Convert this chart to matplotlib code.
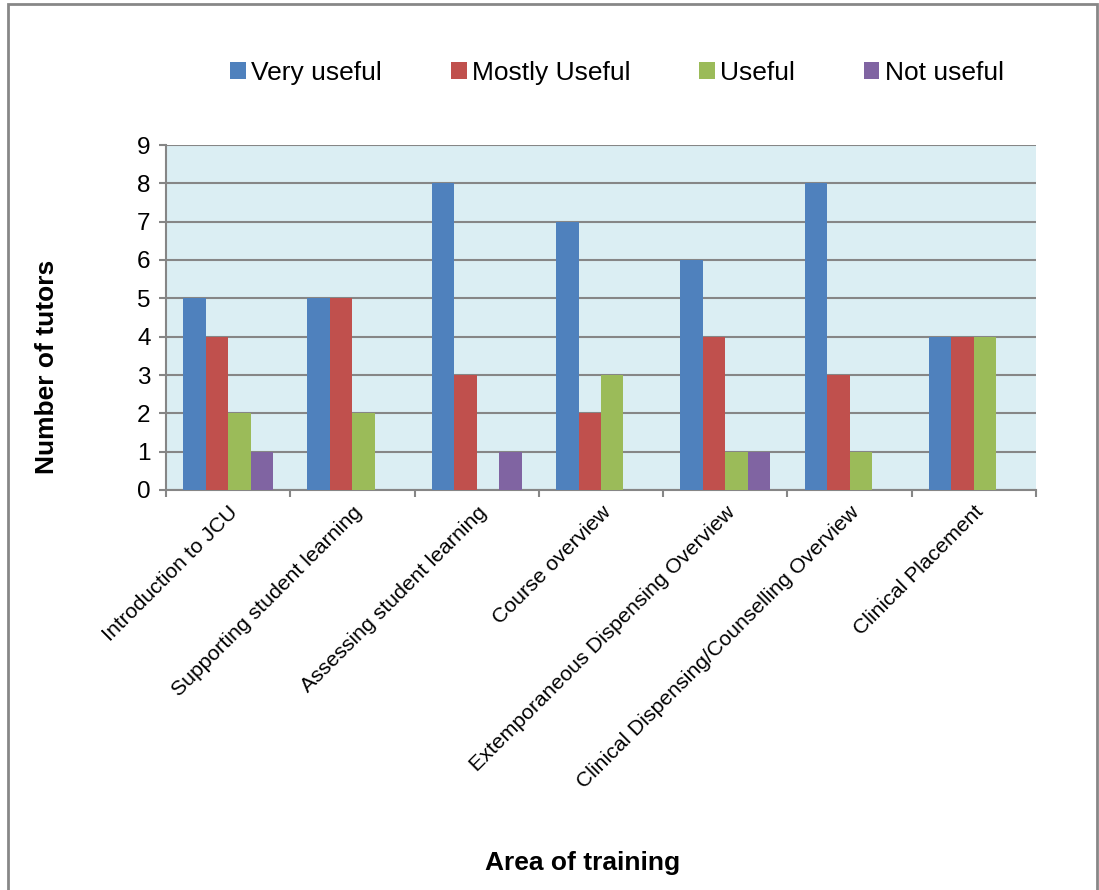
import matplotlib
matplotlib.use("Agg")
import matplotlib.pyplot as plt
import numpy as np
from matplotlib.patches import Rectangle

categories = ["Introduction to JCU", "Supporting student learning", "Assessing student learning",
              "Course overview", "Extemporaneous Dispensing Overview",
              "Clinical Dispensing/Counselling Overview", "Clinical Placement"]
series_names = ["Very useful", "Mostly Useful", "Useful", "Not useful"]
very_useful = [5, 5, 8, 7, 6, 8, 4]
mostly_useful = [4, 5, 3, 2, 4, 3, 4]
useful = [2, 2, 0, 3, 1, 1, 4]
not_useful = [1, 0, 1, 0, 1, 0, 0]
colors = ["#4F81BD", "#C0504D", "#9BBB59", "#8064A2"]

plt.rcParams['font.family'] = ['Liberation Sans', 'DejaVu Sans']

fig = plt.figure(figsize=(10.99, 8.9), dpi=100)
ax = fig.add_axes([166/1099, 1-490/890, (1036-166)/1099, (490-145)/890])
ax.set_facecolor("#DBEEF3")

x = np.arange(len(categories))
w = 0.181
data = [very_useful, mostly_useful, useful, not_useful]
for i, (vals, c, name) in enumerate(zip(data, colors, series_names)):
    ax.bar(x + (i - 1.5) * w, vals, width=w, color=c, label=name, zorder=3)

ax.set_xlim(-0.5, len(categories) - 0.5)
ax.set_ylim(0, 9)
ax.set_yticks(range(0, 10))
ax.yaxis.grid(True, color="#868686", linewidth=1.5, zorder=1)
ax.set_axisbelow(True)
for s in ["top", "right"]:
    ax.spines[s].set_visible(False)
for s in ["left", "bottom"]:
    ax.spines[s].set_color("#868686")
    ax.spines[s].set_linewidth(1.5)

ax.set_xticks(x)
ax.set_xticklabels(categories, rotation=45, ha="right", rotation_mode="anchor", fontsize=15.3)
ax.tick_params(axis="x", which="major", length=0, pad=9)
ax.set_xticks(np.arange(-0.5, len(categories)), minor=True)
ax.tick_params(axis="x", which="minor", length=5, color="#868686", width=1.5, direction="out")
ax.tick_params(axis="y", length=5, color="#868686", width=1.5, labelsize=17.5, pad=6)

fig.text(47/1099, 1-367/890, "Number of tutors", fontsize=19, fontweight="bold",
         rotation=90, ha="center", va="center")
fig.text(583/1099, 1-863/890, "Area of training", fontsize=19, fontweight="bold",
         ha="center", va="center")

fig.legend(loc="center", bbox_to_anchor=(617/1099, 1-73/890), ncol=4, frameon=False,
           fontsize=19, handlelength=0.6, handleheight=0.6, handletextpad=0.2,
           columnspacing=2.6)

fig.patches.append(Rectangle((8/1099, -0.01), 1089/1099, 1.01 - 4/890, transform=fig.transFigure,
                             fill=False, edgecolor="#878787", linewidth=2))

fig.savefig("out.png", dpi=100)
